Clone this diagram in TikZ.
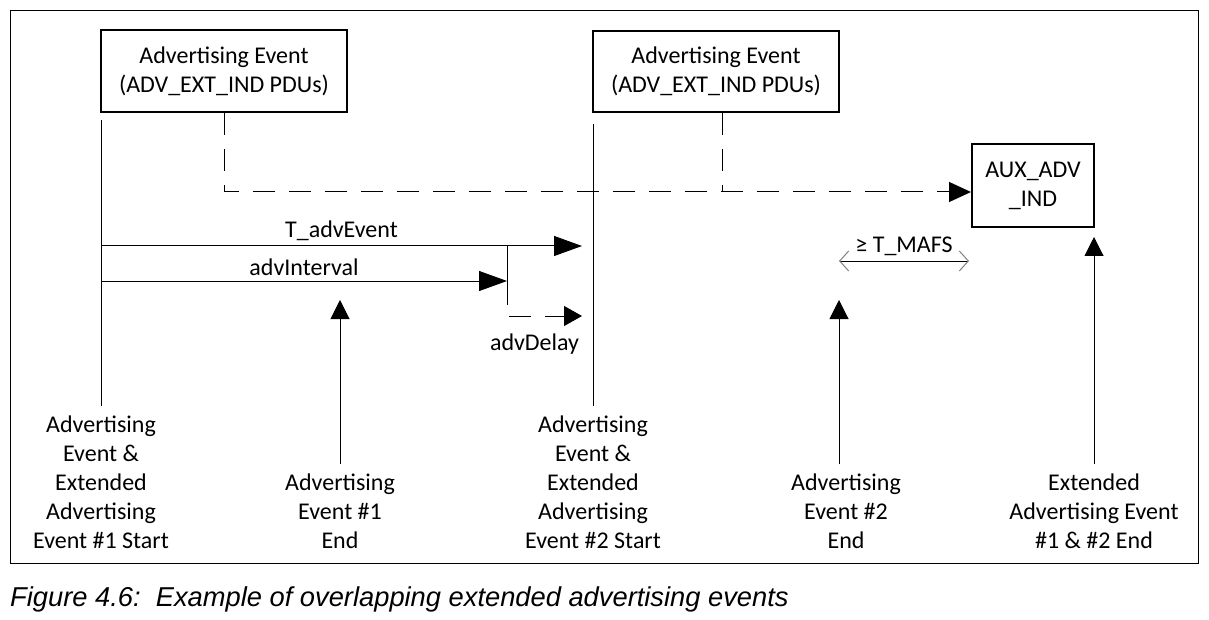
\documentclass[tikz,border=0pt]{standalone}
\usepackage{fontspec}
\setmainfont{Carlito}
\newfontfamily\capfont{Liberation Sans}
\usepackage{tikz}
\usetikzlibrary{positioning,arrows.meta}
\tikzset{
  evbox/.style  = {rectangle, draw, line width=2pt, align=center, inner sep=0pt},
  tag/.style    = {align=center, inner xsep=0pt, inner ysep=9pt},
  tl/.style     = {line width=1pt},
  arr/.style    = {-{Triangle[length=28pt,width=20pt]}, line width=1pt},
  uparr/.style  = {-{Triangle[length=19pt,width=19pt]}, line width=1pt},
  dsh/.style    = {line width=1pt, dash pattern=on 22pt off 14pt},
  gap/.style    = {{Straight Barb[length=9pt,width=20pt,color=gray]}-{Straight Barb[length=9pt,width=20pt,color=gray]}, line width=1pt},
}

\begin{document}
\begin{tikzpicture}[x=1pt, y=-1pt, font=\fontsize{24}{29}\selectfont]
  \useasboundingbox (0,0) rectangle (1209,620);
  \draw[line width=1pt] (10,11) rectangle (1198,563);
  % event boxes
  \node[evbox, minimum width=246pt, minimum height=82pt] (evA) at (224,71) {Advertising Event\\(ADV\_EXT\_IND PDUs)};
  \node[evbox, minimum width=246pt, minimum height=81pt] (evB) at (716,71.5) {Advertising Event\\(ADV\_EXT\_IND PDUs)};
  \node[evbox, minimum width=122pt, minimum height=83pt] (aux) at (1033,185.5) {AUX\_ADV\\\_IND};
  % labels along the time axis
  \node[tag] (startA) at (101,482) {Advertising\\Event \&\\Extended\\Advertising\\Event \#1 Start};
  \node[tag] (endA) at (340,511) {Advertising\\Event \#1\\End};
  \node[tag] (startB) at (593,482) {Advertising\\Event \&\\Extended\\Advertising\\Event \#2 Start};
  \node[tag] (endB) at (846,511) {Advertising\\Event \#2\\End};
  \node[tag] (endX) at (1094,511) {Extended\\Advertising Event\\\#1 \& \#2 End};
  \coordinate (aTop) at (101,120);
  \coordinate (bTop) at (593,124);
  \coordinate (dashrow) at (0,192);
  \coordinate (tevS) at (101,246);  \coordinate (tevE) at (582,246);
  \coordinate (aivS) at (101,281);  \coordinate (aivE) at (507,281);
  \coordinate (tickT) at (507,246); \coordinate (tickB) at (507,305);
  \coordinate (adS) at (509,316);   \coordinate (adE) at (582,316);
  \coordinate (mafS) at (839,261);  \coordinate (mafE) at (969,261);
  \coordinate (endAtip) at (340,300);
  \coordinate (endBtip) at (839,300);
  \coordinate (endXtip) at (1094,237);
  \draw[tl] (aTop) -- (startA.north);
  \draw[tl] (bTop) -- (startB.north);
  \draw[dsh, -{Triangle[length=22pt,width=20pt]}] (evA.south) |- ([yshift=-6.5pt]aux.west);
  \draw[dsh] ([xshift=6pt]evB.south) -- ([xshift=6pt]evB.south |- dashrow);
  \draw[arr] (tevS) -- node[above=1pt] (tev) {T\_advEvent} (tevE);
  \draw[arr] (aivS) -- node[above=1pt] (aiv) {advInterval} (aivE);
  \draw[tl] (tickT) -- (tickB);
  \draw[dsh, -{Triangle[length=18pt,width=20pt]}] (adS) -- node[below=14pt, pos=0.35] (adl) {advDelay} (adE);
  \draw[gap] (mafS) -- node[above=1pt] (maf) {≥ T\_MAFS} (mafE);
  \draw[uparr] (endA.north) -- (endAtip);
  \draw[uparr] (endB.north -| endBtip) -- (endBtip);
  \draw[uparr] (endX.north) -- (endXtip);
  \node[anchor=base west, inner sep=0pt, font=\capfont\itshape\fontsize{27.3}{32}\selectfont] (cap) at (10,606)
    {Figure 4.6:\ \ Example of overlapping extended advertising events};
\end{tikzpicture}
\end{document}
